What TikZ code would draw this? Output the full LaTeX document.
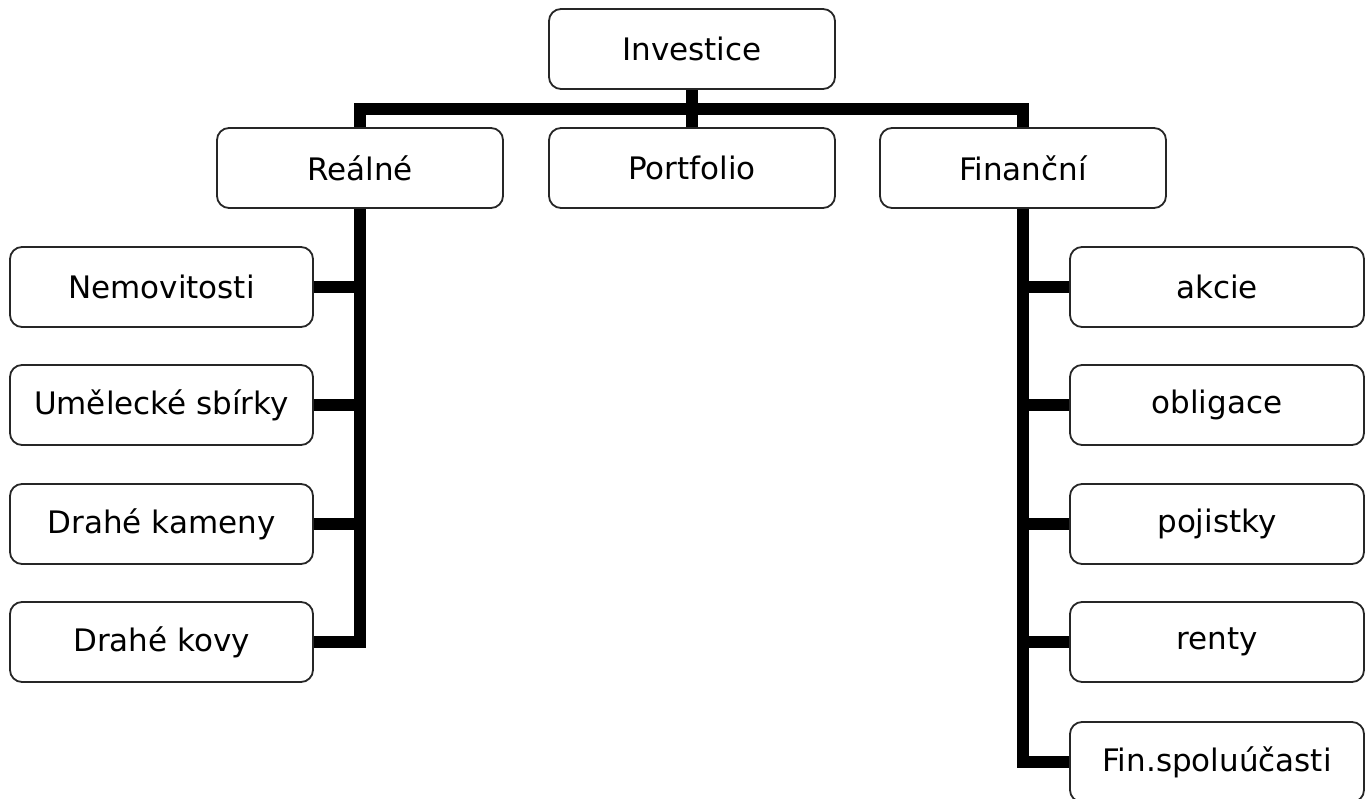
\documentclass[tikz,border=0pt]{standalone}
\usepackage{fontspec}
\setmainfont{DejaVu Sans}
\pgfdeclarelayer{bg}
\pgfsetlayers{bg,main}
\begin{document}
\begin{tikzpicture}[x=1pt,y=-1pt,
  box/.style={draw=black!85,line width=1.8pt,rounded corners=12pt,fill=white,
    minimum height=80pt,inner sep=0pt,font=\fontsize{31}{36}\selectfont},
  wbox/.style={box,minimum width=286pt},
  lbox/.style={box,minimum width=303pt},
  rbox/.style={box,minimum width=294pt},
  conn/.style={line width=12pt,line join=miter}]
\useasboundingbox (0,0) rectangle (1366,799);
% nodes
\node[wbox] (inv) at (692,49) {Investice};
\node[wbox] (real) at (360,168) {Reálné};
\node[wbox] (port) at (692,168) {Portfolio};
\node[wbox] (fin) at (1023,168) {Finanční};
\node[lbox] (nem) at (161.5,287) {Nemovitosti};
\node[lbox] (umel) at (161.5,405) {Umělecké sbírky};
\node[lbox] (kam) at (161.5,524) {Drahé kameny};
\node[lbox] (kovy) at (161.5,642) {Drahé kovy};
\node[rbox] (akc) at (1217,287) {akcie};
\node[rbox] (obl) at (1217,405) {obligace};
\node[rbox] (poj) at (1217,524) {pojistky};
\node[rbox] (ren) at (1217,642) {renty};
\node[rbox] (spol) at (1217,762) {Fin.spoluúčasti};
\coordinate (bar) at (692,109);
% connectors (behind boxes)
\begin{pgfonlayer}{bg}
\draw[conn] (kovy.east) -| (real.center |- bar) -- (fin.center |- bar) |- (spol.west);
\draw[conn] (inv.south) -- (port.north);
\draw[conn] (nem.east) -- (real.center |- nem.east);
\draw[conn] (umel.east) -- (real.center |- umel.east);
\draw[conn] (kam.east) -- (real.center |- kam.east);
\draw[conn] (akc.west) -- (fin.center |- akc.west);
\draw[conn] (obl.west) -- (fin.center |- obl.west);
\draw[conn] (poj.west) -- (fin.center |- poj.west);
\draw[conn] (ren.west) -- (fin.center |- ren.west);
\end{pgfonlayer}
\end{tikzpicture}
\end{document}
